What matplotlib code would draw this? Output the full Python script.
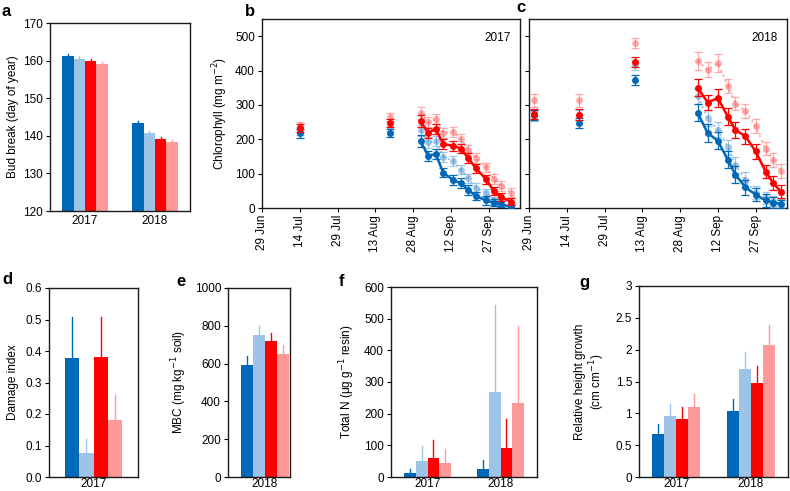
import matplotlib
matplotlib.use("Agg")
import matplotlib.pyplot as plt
import numpy as np

plt.rcParams['font.family'] = ['Liberation Sans', 'DejaVu Sans']
plt.rcParams['font.size'] = 8.5

W, H = 790, 491
# ---------------- data ----------------
treatments = ['blue', 'lightblue', 'red', 'pink']
bar_colors = ['#0068B8', '#9DC3E6', '#FF0000', '#FF9999']

years2 = ['2017', '2018']

# a: bud break
bud_mean = {'2017': [161.1, 160.5, 159.9, 159.1], '2018': [143.4, 140.7, 139.2, 138.4]}
bud_err = {'2017': [0.6, 0.6, 0.6, 0.6], '2018': [0.6, 0.6, 0.6, 0.6]}

# d: damage index (2017)
dmg_mean = [0.378, 0.075, 0.381, 0.181]
dmg_err = [0.130, 0.047, 0.127, 0.078]

# e: MBC (2018)
mbc_mean = [593, 750, 718, 652]
mbc_err = [45, 50, 46, 45]

# f: total N
totn_mean = {'2017': [13, 50, 59, 44], '2018': [26, 268, 91, 233]}
totn_err = {'2017': [11, 48, 59, 46], '2018': [27, 274, 92, 243]}

# g: relative height growth
rhg_mean = {'2017': [0.675, 0.953, 0.906, 1.105], '2018': [1.037, 1.70, 1.48, 2.08]}
rhg_err = {'2017': [0.163, 0.19, 0.19, 0.205], '2018': [0.19, 0.26, 0.26, 0.30]}

# b/c chlorophyll (day of year)
date_ticks = [180, 195, 210, 225, 240, 255, 270]
date_labels = ['29 Jun', '14 Jul', '29 Jul', '13 Aug', '28 Aug', '12 Sep', '27 Sep']

# 2017
b_early_doy = [195, 231]
b_early = {'blue': [217, 219], 'lightblue': [225, 237], 'red': [232, 248], 'pink': [239, 264]}
b_early_err = {'blue': [12, 12], 'lightblue': [12, 12], 'red': [12, 12], 'pink': [12, 12]}
b_doy = [243, 246, 249, 252, 256, 259, 262, 265, 269, 272, 275, 279]
b_vals = {
    'red': [253, 219, 230, 186, 181, 173, 145, 115, 84, 50, 32, 18],
    'pink': [276, 250, 259, 218, 222, 200, 169, 145, 118, 85, 64, 45],
    'blue': [195, 152, 157, 103, 81, 72, 52, 35, 22, 16, 11, 3],
    'lightblue': [226, 191, 195, 149, 137, 112, 86, 59, 44, 22, 13, 5],
}
b_err = {
    'red': [18, 15, 15, 14, 14, 14, 14, 14, 13, 12, 12, 10],
    'pink': [18, 14, 15, 14, 14, 14, 14, 14, 14, 14, 14, 14],
    'blue': [18, 15, 15, 14, 14, 14, 14, 13, 12, 10, 9, 6],
    'lightblue': [16, 15, 15, 14, 14, 14, 13, 13, 12, 10, 9, 6],
}

# 2018
c_early_doy = [182, 200, 222]
c_early = {'blue': [270, 247, 372], 'lightblue': [268, 270, 415], 'red': [273, 272, 425], 'pink': [313, 313, 481]}
c_early_err = {'blue': [15, 15, 14], 'lightblue': [14, 14, 14], 'red': [15, 15, 14], 'pink': [18, 18, 14]}
c_doy = [247, 251, 255, 259, 262, 266, 270, 274, 277, 280]
c_vals = {
    'red': [350, 307, 320, 266, 227, 209, 165, 106, 73, 48],
    'pink': [428, 402, 422, 355, 304, 283, 238, 173, 139, 108],
    'blue': [277, 218, 196, 140, 97, 60, 39, 22, 16, 12],
    'lightblue': [325, 262, 228, 177, 125, 82, 45, 30, 21, 13],
}
c_err = {
    'red': [25, 22, 25, 24, 22, 22, 22, 20, 20, 18],
    'pink': [25, 22, 25, 20, 20, 20, 20, 20, 20, 20],
    'blue': [25, 25, 25, 25, 25, 22, 20, 18, 15, 12],
    'lightblue': [22, 22, 22, 22, 22, 22, 20, 18, 15, 12],
}

# ---------------- figure ----------------
fig = plt.figure(figsize=(W / 100, H / 100), dpi=100)


def ax_px(x0, y0, x1, y1):
    return fig.add_axes([x0 / W, 1 - y1 / H, (x1 - x0) / W, (y1 - y0) / H])


def style(ax):
    for s in ax.spines.values():
        s.set_linewidth(1.0)
        s.set_color('#1a1a1a')
    ax.tick_params(direction='out', length=3, width=0.8, pad=2, labelsize=8.5)


BW = 0.1625
offs = (np.arange(4) - 1.5) * BW


def bars(ax, groups, means, errs):
    for gi, g in enumerate(groups):
        for i in range(4):
            x = gi + offs[i]
            ax.bar(x, means[g][i], width=BW, color=bar_colors[i], zorder=2)
            ax.plot([x, x], [means[g][i], means[g][i] + errs[g][i]], color=bar_colors[i], lw=1.0, zorder=1)
    ax.set_xticks(range(len(groups)))
    ax.set_xticklabels(groups)
    ax.tick_params(axis='x', length=0, pad=3)


# a
ax = ax_px(50, 23, 190, 211)
style(ax)
bars(ax, years2, bud_mean, bud_err)
ax.set_ylim(120, 170)
ax.set_xlim(-0.5, 1.5)
ax.set_yticks([120, 130, 140, 150, 160, 170])
ax.set_ylabel('Bud break (day of year)', fontsize=8.5, labelpad=3)


def bottom_pad(ax):
    ax.tick_params(axis='x', length=0, pad=0.8)


# d
ax = ax_px(49, 288, 138, 477)
style(ax)
bars(ax, ['2017'], {'2017': dmg_mean}, {'2017': dmg_err})
bottom_pad(ax)
ax.set_ylim(0, 0.6)
ax.set_xlim(-0.5, 0.5)
ax.set_yticks(np.arange(0, 0.61, 0.1))
ax.set_yticklabels(['0.0', '0.1', '0.2', '0.3', '0.4', '0.5', '0.6'])
ax.set_ylabel('Damage index', fontsize=8.5, labelpad=5)

# e
ax = ax_px(228, 288, 290, 477)
style(ax)
bars(ax, ['2018'], {'2018': mbc_mean}, {'2018': mbc_err})
bottom_pad(ax)
ax.set_ylim(0, 1000)
ax.set_xlim(-0.5, 0.34)
ax.set_yticks([0, 200, 400, 600, 800, 1000])
ax.set_ylabel('MBC (mg kg$^{-1}$ soil)', fontsize=8.5, labelpad=4)

# f
ax = ax_px(391, 287, 537, 477)
style(ax)
bars(ax, years2, totn_mean, totn_err)
bottom_pad(ax)
ax.set_ylim(0, 600)
ax.set_xlim(-0.5, 1.5)
ax.set_yticks([0, 100, 200, 300, 400, 500, 600])
ax.set_ylabel('Total N (μg g$^{-1}$ resin)', fontsize=8.5, labelpad=5)

# g
ax = ax_px(639, 286, 788, 477)
style(ax)
bars(ax, years2, rhg_mean, rhg_err)
bottom_pad(ax)
ax.set_ylim(0, 3)
ax.set_xlim(-0.5, 1.5)
ax.set_yticks([0, 0.5, 1, 1.5, 2, 2.5, 3])
ax.set_yticklabels(['0', '0.5', '1', '1.5', '2', '2.5', '3'])
ax.set_ylabel('Relative height growth\n(cm cm$^{-1}$)', fontsize=8.5, linespacing=1.1, labelpad=6)

# chlorophyll panels
line_colors = {'blue': '#0068B8', 'lightblue': '#4A90D0', 'red': '#FF0000', 'pink': '#FF5A5A'}
alphas = {'blue': 1.0, 'lightblue': 0.5, 'red': 1.0, 'pink': 0.5}
zord = {'lightblue': 2, 'pink': 3, 'blue': 4, 'red': 5}
lstyle = {'blue': '-', 'red': '-', 'lightblue': ':', 'pink': ':'}
lwid = {'blue': 1.8, 'red': 1.8, 'lightblue': 1.5, 'pink': 1.5}


def chl(ax, early_doy, early, early_err, doy, vals, errs, year, show_labels):
    style(ax)
    for k in ['lightblue', 'pink', 'blue', 'red']:
        c = line_colors[k]
        a = alphas[k]
        ax.errorbar(early_doy, early[k], yerr=early_err[k], fmt='o', color=c, ms=5,
                    ecolor=c, elinewidth=0.9, capsize=3, capthick=0.9, alpha=a, zorder=zord[k],
                    mec='none')
        ax.errorbar(doy, vals[k], yerr=errs[k], fmt='o', ls=lstyle[k], lw=lwid[k], color=c, ms=5,
                    ecolor=c, elinewidth=0.9, capsize=3, capthick=0.9, alpha=a, zorder=zord[k],
                    mec='none')
    ax.set_xlim(180, 282.5)
    ax.set_ylim(0, 550)
    ax.set_xticks(date_ticks)
    ax.set_xticklabels(date_labels, rotation=90)
    ax.set_yticks([0, 100, 200, 300, 400, 500])
    if not show_labels:
        ax.set_yticklabels([])
    ax.text(0.965, 0.93, year, transform=ax.transAxes, ha='right', va='top', fontsize=8.5)


ax = ax_px(262, 19, 520, 208)
chl(ax, b_early_doy, b_early, b_early_err, b_doy, b_vals, b_err, '2017', True)
ax.set_ylabel('Chlorophyll (mg m$^{-2}$)', fontsize=8.5, labelpad=4)

ax = ax_px(529, 19, 787, 208)
chl(ax, c_early_doy, c_early, c_early_err, c_doy, c_vals, c_err, '2018', False)

# panel letters
for t, x, y in [('a', 2, 11), ('b', 245, 11), ('c', 516, 8), ('d', 2, 280),
                ('e', 176, 282), ('f', 339, 282), ('g', 579, 283)]:
    fig.text(x / W, 1 - y / H, t, fontsize=12, fontweight='bold', ha='left', va='center')

fig.savefig('out.png', dpi=100)
